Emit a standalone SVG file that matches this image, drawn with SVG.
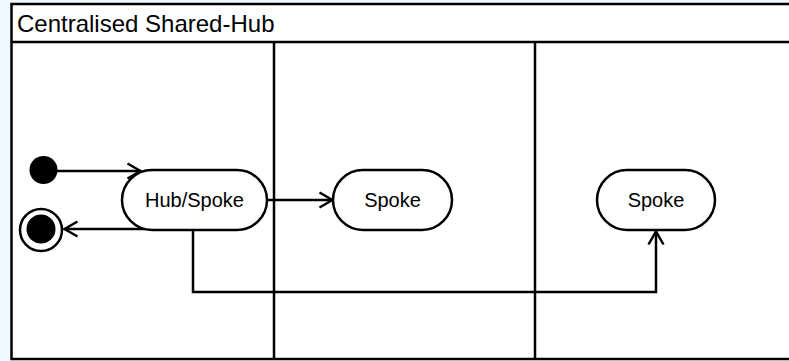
<svg xmlns="http://www.w3.org/2000/svg" width="789" height="361" viewBox="0 0 789 361">
<style>
.frame{fill:#fff;stroke:#000;stroke-width:2.5}
.line{fill:none;stroke:#000;stroke-width:2.5}
.node{fill:#fff;stroke:#000;stroke-width:2.5}
.lbl{font-family:"Liberation Sans",Arial,sans-serif;font-size:20px;fill:#000;text-anchor:middle}
.title{font-family:"Liberation Sans",Arial,sans-serif;font-size:24px;fill:#000}
</style>
<defs>
<marker id="arr" viewBox="0 0 16 18" refX="15" refY="9" markerWidth="16" markerHeight="18" markerUnits="userSpaceOnUse" orient="auto">
<path d="M1.5,1.5 L14.5,9 L1.5,16.5" fill="none" stroke="#000" stroke-width="2.5"/>
</marker>
</defs>
<rect x="0" y="0" width="789" height="361" fill="#f0f8ff"/>
<g id="frame">
<rect class="frame" x="11.5" y="4" width="790" height="355"/>
<line class="line" x1="11.5" y1="42" x2="789" y2="42"/>
<line class="line" x1="274" y1="42" x2="274" y2="359"/>
<line class="line" x1="535" y1="42" x2="535" y2="359"/>
<text class="title" x="17" y="32">Centralised Shared-Hub</text>
</g>
<g id="connectors">
<line class="line" x1="57" y1="171" x2="141" y2="171" marker-end="url(#arr)"/>
<line class="line" x1="145" y1="229" x2="64" y2="229" marker-end="url(#arr)"/>
<line class="line" x1="267" y1="200" x2="333" y2="200" marker-end="url(#arr)"/>
<polyline class="line" points="193,230 193,292 656,292 656,231" marker-end="url(#arr)"/>
</g>
<g id="initial">
<circle cx="43.5" cy="170" r="14" fill="#000"/>
</g>
<g id="final">
<circle cx="41" cy="230" r="21" fill="#fff" stroke="#000" stroke-width="2.5"/>
<circle cx="41" cy="229" r="14.5" fill="#000"/>
</g>
<g id="hub">
<rect class="node" x="122" y="170" width="145" height="60" rx="30" ry="30"/>
<text class="lbl" x="194.5" y="207">Hub/Spoke</text>
</g>
<g id="spoke1">
<rect class="node" x="333" y="170" width="119" height="60" rx="30" ry="30"/>
<text class="lbl" x="392.5" y="207">Spoke</text>
</g>
<g id="spoke2">
<rect class="node" x="597" y="170" width="118" height="60" rx="30" ry="30"/>
<text class="lbl" x="656" y="207">Spoke</text>
</g>
</svg>
